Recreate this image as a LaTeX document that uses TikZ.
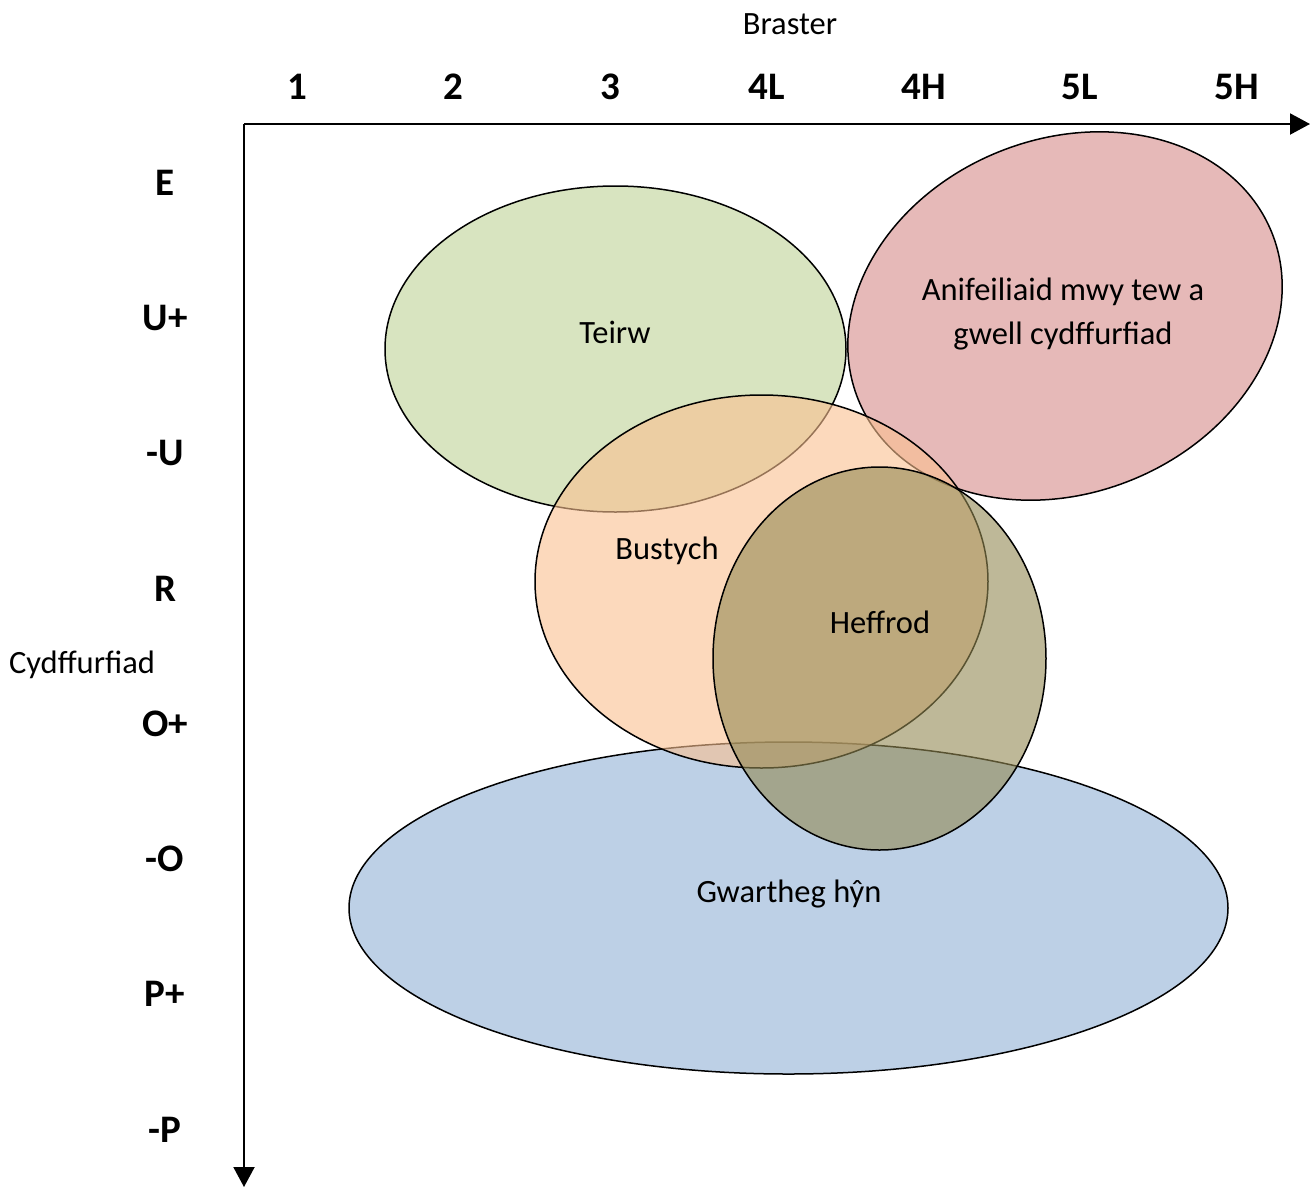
\documentclass[tikz,border=0pt]{standalone}
\usepackage{fontspec}
\setmainfont{Carlito}
\usetikzlibrary{arrows.meta}
\definecolor{teirwc}{HTML}{D8E4C0}
\definecolor{anic}{HTML}{E6B9B8}
\definecolor{gwarc}{HTML}{BDD0E6}
\definecolor{bustc}{HTML}{FAC090}
\definecolor{heffc}{HTML}{938953}
\tikzset{
  blob/.style={draw=black, line width=1.5pt},
  lbl/.style={inner sep=0pt, anchor=base, font=\fontsize{32.5}{44}\selectfont},
  axlbl/.style={inner sep=0pt, anchor=base, font=\fontsize{39}{44}\selectfont\bfseries},
  axis/.style={line width=2pt, -{Triangle[length=20pt,width=21pt]}}
}
\begin{document}
\begin{tikzpicture}[x=1pt,y=-1pt]
\useasboundingbox (0,0) rectangle (1310,1187);
% axes
\coordinate (o) at (244,124);
\coordinate (xe) at (1310,124);
\coordinate (ye) at (244,1187);
\draw[axis] (o) -- (xe);
\draw[axis] (o) -- (ye);
% ellipses
\path[blob, fill=teirwc] (615.5,349) ellipse [x radius=230.5, y radius=163];
\path[blob, fill=anic, shift={(1065,316)}, rotate=22] (0,0) ellipse [x radius=223, y radius=177];
\path[blob, fill=gwarc] (788.5,908) ellipse [x radius=439.5, y radius=166];
\path[blob, fill=bustc, fill opacity=0.6] (761.5,581.5) ellipse [x radius=226.5, y radius=186.5];
\path[blob, fill=heffc, fill opacity=0.6] (879.5,658.5) ellipse [x radius=166.5, y radius=191.5];
% ellipse labels
\node[lbl] (teirw) at (615,343) {Teirw};
\node[lbl] (ani1) at (1063,300) {Anifeiliaid mwy tew a};
\node[lbl] (ani2) at (1063,344) {gwell cydffurfiad};
\node[lbl] (bust) at (667,559) {Bustych};
\node[lbl] (heff) at (880,633) {Heffrod};
\node[lbl] (gwar) at (789,902) {Gwartheg hŷn};
% axis titles
\node[lbl] (braster) at (790,34) {Braster};
\node[lbl] (cydff) at (82,673) {Cydffurfiad};
% top labels
\node[axlbl] (x1) at (297,99) {1};
\node[axlbl] (x2) at (453.5,99) {2};
\node[axlbl] (x3) at (610,99) {3};
\node[axlbl] (x4L) at (767,99) {4L};
\node[axlbl] (x4H) at (923.5,99) {4H};
\node[axlbl] (x5L) at (1080,99) {5L};
\node[axlbl] (x5H) at (1237,99) {5H};
% left labels
\node[axlbl] (yE) at (165,195) {E};
\node[axlbl] (yUp) at (165,330) {U+};
\node[axlbl] (yUm) at (165,465.5) {-U};
\node[axlbl] (yR) at (165,601) {R};
\node[axlbl] (yOp) at (165,736) {O+};
\node[axlbl] (yOm) at (165,871.5) {-O};
\node[axlbl] (yPp) at (165,1006.5) {P+};
\node[axlbl] (yPm) at (165,1142) {-P};
\end{tikzpicture}
\end{document}
